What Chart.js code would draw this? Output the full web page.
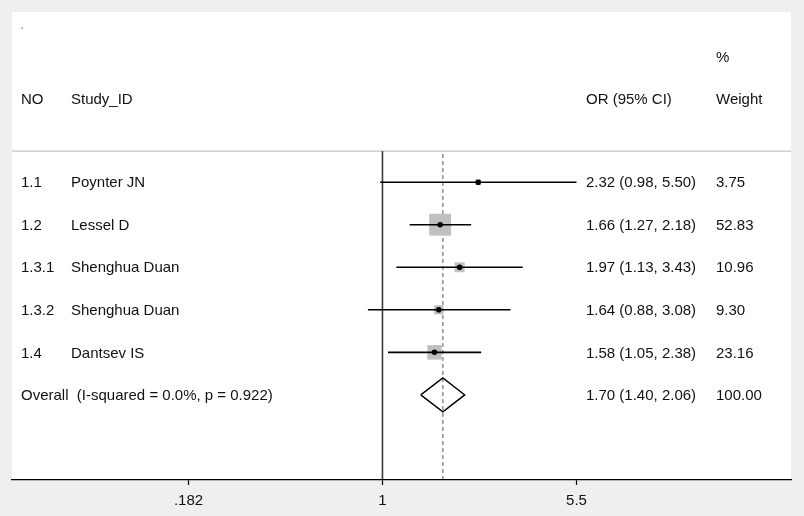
<!DOCTYPE html>
<html>
<head>
<meta charset="utf-8">
<script src="https://cdn.jsdelivr.net/npm/chart.js@4/dist/chart.umd.min.js"></script>
<style>
  html, body { margin: 0; padding: 0; background: #efefef; }
  #wrap { width: 804px; height: 516px; }
</style>
</head>
<body>
<div id="wrap"><canvas id="forest"></canvas></div>
<script>
// study data
const studyNo = ['1.1', '1.2', '1.3.1', '1.3.2', '1.4'];
const studyId = ['Poynter JN', 'Lessel D', 'Shenghua Duan', 'Shenghua Duan', 'Dantsev IS'];
const orValues = [2.32, 1.66, 1.97, 1.64, 1.58];
const ciLower = [0.98, 1.27, 1.13, 0.88, 1.05];
const ciUpper = [5.50, 2.18, 3.43, 3.08, 2.38];
const weights = [3.75, 52.83, 10.96, 9.30, 23.16];

// pooled estimate
const overallLabel = 'Overall  (I-squared = 0.0%, p = 0.922)';
const overallOR = 1.70;
const overallLower = 1.40;
const overallUpper = 2.06;
const overallWeight = 100.00;

const xTicks = [0.182, 1, 5.5];
const xTickLabels = ['.182', '1', '5.5'];

const rows = studyNo.map((_, i) => i + 1);
const overallRow = rows.length + 1;

const fmt = v => v.toFixed(2);

const datasets = [];

// CI whiskers
rows.forEach((r, i) => {
    datasets.push({
        data: [{ x: ciLower[i], y: r }, { x: ciUpper[i], y: r }],
        showLine: true,
        borderColor: '#000',
        borderWidth: 1.6,
        pointRadius: 0,
        order: 3
    });
});

// weight boxes (area proportional to weight)
datasets.push({
    data: rows.map((r, i) => ({ x: orValues[i], y: r })),
    pointStyle: 'rect',
    pointRadius: weights.map(w => 15.5 * Math.sqrt(w / Math.max(...weights))),
    backgroundColor: '#c0c0c0',
    borderWidth: 0,
    order: 4
});

// point estimates
datasets.push({
    data: rows.map((r, i) => ({ x: orValues[i], y: r })),
    pointStyle: 'circle',
    pointRadius: 2.8,
    backgroundColor: '#000',
    borderWidth: 0,
    order: 1
});

// overall diamond
datasets.push({
    data: [
        { x: overallLower, y: overallRow },
        { x: overallOR, y: overallRow - 0.4 },
        { x: overallUpper, y: overallRow },
        { x: overallOR, y: overallRow + 0.4 },
        { x: overallLower, y: overallRow }
    ],
    showLine: true,
    borderColor: '#000',
    borderWidth: 1.4,
    pointRadius: 0,
    fill: false,
    order: 2
});

const textFont = '15px "Liberation Sans", Arial, sans-serif';
const headerLineRow = 0.27;
const headerRow = -0.955;
const pctRow = -1.94;

const forestPlugin = {
    id: 'forest',
    beforeDraw(chart) {
        const { ctx, chartArea: a, scales } = chart;
        const xs = scales.x, ys = scales.y;
        ctx.save();
        ctx.fillStyle = '#fff';
        ctx.fillRect(a.left, a.top, a.right - a.left, a.bottom - a.top);

        const hy = ys.getPixelForValue(headerLineRow);
        ctx.strokeStyle = '#c4c4c4';
        ctx.lineWidth = 1.2;
        ctx.beginPath();
        ctx.moveTo(a.left, hy);
        ctx.lineTo(a.right, hy);
        ctx.stroke();

        // null line
        const x1 = xs.getPixelForValue(1);
        ctx.strokeStyle = '#3a3a3a';
        ctx.lineWidth = 1.6;
        ctx.beginPath();
        ctx.moveTo(x1, hy);
        ctx.lineTo(x1, a.bottom);
        ctx.stroke();

        // overall estimate line
        const xo = xs.getPixelForValue(overallOR);
        ctx.strokeStyle = '#808080';
        ctx.lineWidth = 1.3;
        ctx.setLineDash([4, 3]);
        ctx.beginPath();
        ctx.moveTo(xo, hy + 3);
        ctx.lineTo(xo, a.bottom);
        ctx.stroke();
        ctx.restore();
    },
    afterDraw(chart) {
        const { ctx, scales } = chart;
        const ys = scales.y;
        const py = v => ys.getPixelForValue(v) + 1;
        ctx.save();
        ctx.font = textFont;
        ctx.textBaseline = 'middle';
        ctx.textAlign = 'left';

        ctx.fillStyle = '#888';
        ctx.fillText('.', 20, 25);
        ctx.fillStyle = '#111';

        const hy = py(headerRow);
        ctx.fillText('NO', 21, hy);
        ctx.fillText('Study_ID', 71, hy);
        ctx.fillText('OR (95% CI)', 586, hy);
        ctx.fillText('Weight', 716, hy);
        ctx.fillText('%', 716, py(pctRow));

        rows.forEach((r, i) => {
            const y = py(r);
            ctx.fillText(studyNo[i], 21, y);
            ctx.fillText(studyId[i], 71, y);
            ctx.fillText(`${fmt(orValues[i])} (${fmt(ciLower[i])}, ${fmt(ciUpper[i])})`, 586, y);
            ctx.fillText(fmt(weights[i]), 716, y);
        });

        const oy = py(overallRow);
        ctx.fillText(overallLabel, 21, oy);
        ctx.fillText(`${fmt(overallOR)} (${fmt(overallLower)}, ${fmt(overallUpper)})`, 586, oy);
        ctx.fillText(fmt(overallWeight), 716, oy);
        ctx.restore();
    }
};

new Chart(document.getElementById('forest'), {
    type: 'scatter',
    data: { datasets },
    options: {
        responsive: true,
        maintainAspectRatio: false,
        animation: false,
        events: [],
        layout: { autoPadding: false, padding: { left: 12, right: 13, top: 12, bottom: 0 } },
        plugins: { legend: { display: false }, tooltip: { enabled: false } },
        scales: {
            x: {
                type: 'logarithmic',
                min: 0.0386,
                max: 36.2,
                afterBuildTicks: scale => {
                    scale.ticks = xTicks.map(v => ({ value: v }));
                },
                afterFit: scale => { scale.height = 36; },
                ticks: {
                    callback: (v, i) => xTickLabels[i],
                    color: '#111',
                    font: { family: '"Liberation Sans", Arial, sans-serif', size: 15 },
                    padding: 7,
                    maxRotation: 0,
                    autoSkip: false
                },
                grid: {
                    drawOnChartArea: false,
                    drawTicks: true,
                    tickLength: 5,
                    tickColor: '#000',
                    tickWidth: 1.2
                },
                border: { display: true, color: '#000', width: 1.3 }
            },
            y: {
                display: false,
                reverse: true,
                min: -3,
                max: 8
            }
        }
    },
    plugins: [forestPlugin]
});
</script>
</body>
</html>
